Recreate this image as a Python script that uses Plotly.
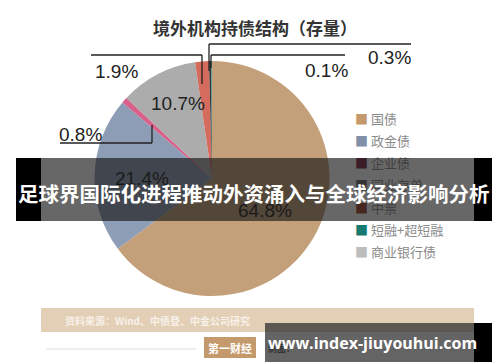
import plotly.graph_objects as go

# ---- data ----
slice_labels = ["国债", "政金债", "企业债", "商业银行债", "中票", "同业存单", "短融+超短融"]
slice_values = [64.8, 21.4, 0.8, 10.7, 1.9, 0.3, 0.1]
slice_colors = ["#C4A07A", "#8D9DB5", "#D8608A", "#ACACAC", "#D46B5C", "#333333", "#3E9A8E"]

legend_labels = ["国债", "政金债", "企业债", "同业存单", "中票", "短融+超短融", "商业银行债"]
legend_colors = ["#C49A6C", "#8190A8", "#7C2A40", "#6A6A6A", "#A0402F", "#177A70", "#BDBDBD"]

title_text = "境外机构持债结构（存量）"
source_text = "资料来源：Wind、中债登、中金公司研究"
banner_text = "足球界国际化进程推动外资涌入与全球经济影响分析"
url_text = "www.index-jiuyouhui.com"

W, H = 500, 362


def px(x):
    return x / W


def py(y):
    return 1 - y / H


fig = go.Figure()
fig.add_trace(go.Pie(
    labels=slice_labels, values=slice_values, sort=False, direction="clockwise",
    rotation=0, marker=dict(colors=slice_colors, line=dict(width=0)),
    textinfo="none", hoverinfo="label+percent", showlegend=False,
    domain=dict(x=[px(86.5), px(321.5)], y=[py(288), py(53)]),
))

shapes = []
ann = []
FONT = "Noto Sans CJK SC, Noto Sans, sans-serif"


def line(x0, y0, x1, y1, color="#222", w=1.3):
    shapes.append(dict(type="line", xref="paper", yref="paper",
                       x0=px(x0), y0=py(y0), x1=px(x1), y1=py(y1),
                       line=dict(color=color, width=w)))


def text(x, y, t, size, color="#222", anchor="center", **kw):
    ann.append(dict(xref="paper", yref="paper", x=px(x), y=py(y), text=t,
                    showarrow=False, xanchor=anchor, yanchor="middle",
                    font=dict(size=size, color=color, family=kw.pop("family", FONT)),
                    **kw))


# leader lines
line(83, 47, 194, 47); line(194, 47, 194, 76)          # 1.9%
line(201, 36, 403, 36); line(201, 36, 201, 63)         # 0.3%
line(203, 47, 337, 47); line(203, 47, 203, 60)         # 0.1%
line(52, 135, 144, 135); line(144, 135, 144, 117)      # 0.8%

# title
text(247, 20, "<b>" + title_text + "</b>", 17, "#333")

# value labels
vals = dict(zip(slice_labels, slice_values))
lbl_font = "Liberation Sans, Arial, sans-serif"
text(108, 63, f"{vals['中票']}%", 19, family=lbl_font)
text(381, 50, f"{vals['同业存单']}%", 19, family=lbl_font)
text(318, 62, f"{vals['短融+超短融']}%", 19, family=lbl_font)
text(72, 126, f"{vals['企业债']}%", 19, family=lbl_font)
text(170, 95, f"{vals['商业银行债']}%", 19, family=lbl_font)
text(134, 170, f"{vals['政金债']}%", 19, family=lbl_font)
text(257, 203, f"{vals['国债']}%", 19, family=lbl_font)

# legend
for i, (lab, col) in enumerate(zip(legend_labels, legend_colors)):
    y = 110 + i * 22.3
    text(345, y, f"<span style='color:{col}'>■</span> {lab}", 13, "#8A8A8A", anchor="left")

# source band
ann.append(dict(xref="paper", yref="paper", x=px(33), y=py(300), xanchor="left", yanchor="top",
                text="", showarrow=False, width=433, height=24, bgcolor="#E3CFB6",
                borderpad=0, borderwidth=0))
text(55, 312, "<b>" + source_text + "</b>", 10, "#F7F1EA", anchor="left")

# bottom logo area
line(38, 341, 188, 341, color="#DDDDDD", w=1)
ann.append(dict(xref="paper", yref="paper", x=px(196), y=py(329), xanchor="left", yanchor="top",
                text="<b>第一财经</b>", showarrow=False, width=52, height=21, bgcolor="#C49A6C",
                font=dict(size=11, color="#FFFFFF", family=FONT), borderpad=0, borderwidth=0))
text(258, 340, "<b>制图：</b>", 9, "#555", anchor="left")

# overlay banner
def box(x0, y0, x1, y1, color):
    ann.append(dict(xref="paper", yref="paper", x=px(x0), y=py(y0), xanchor="left", yanchor="top",
                    text="", showarrow=False, width=x1 - x0, height=y1 - y0, bgcolor=color,
                    borderpad=0, borderwidth=0))

box(33, 150, 466, 213, "rgba(25,25,25,0.66)")
box(8, 150, 33, 213, "#000000")
box(466, 150, 492, 213, "#000000")
text(246, 185, "<b>" + banner_text + "</b>", 20.5, "#FFFFFF")

box(257, 315, 466, 355, "rgba(40,40,40,0.72)")
box(466, 315, 492, 355, "#000000")
text(364, 335, "<b>" + url_text + "</b>", 16, "#FFFFFF",
     family="Open Sans, DejaVu Sans, sans-serif")

fig.update_layout(width=W, height=H, autosize=False, margin=dict(l=0, r=0, t=0, b=0),
                  paper_bgcolor="#FFFFFF", plot_bgcolor="#FFFFFF",
                  shapes=shapes, annotations=ann, showlegend=False)
fig.write_html("out.html")
